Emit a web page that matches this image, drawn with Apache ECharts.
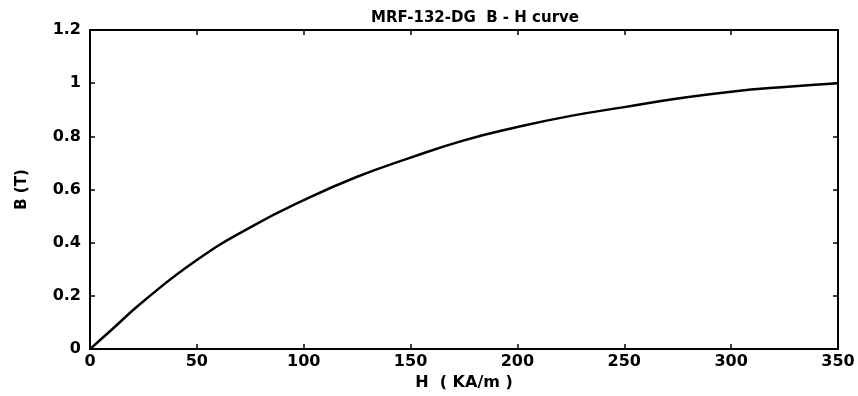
<!DOCTYPE html>
<html>
<head>
<meta charset="utf-8">
<script src="https://cdn.jsdelivr.net/npm/echarts@6/dist/echarts.min.js"></script>
<style>
  html, body { margin: 0; padding: 0; background: #fff; }
  #chart { width: 858px; height: 396px; }
</style>
</head>
<body>
<div id="chart"></div>
<script>
// H (KA/m) and B (T)
const hValues = [0, 5, 10, 25, 50, 75, 100, 125, 150, 175, 200, 225, 250, 275, 300, 325, 350];
const bValues = [0, 0.036, 0.072, 0.18, 0.335, 0.458, 0.56, 0.648, 0.72, 0.785, 0.835, 0.877, 0.91, 0.942, 0.968, 0.986, 1.0];

const FONT = 'DejaVu Sans';
const black = '#000';

const myChart = echarts.init(document.getElementById('chart'));

const boxAxis = {
  axisLine: {show: true, onZero: false, lineStyle: {color: black, width: 2}},
  axisTick: {show: true, inside: true, length: 5, lineStyle: {color: black, width: 1.5}},
  splitLine: {show: false},
};

myChart.setOption({
  animation: false,
  backgroundColor: '#fff',
  title: {
    text: 'MRF-132-DG  B - H curve',
    left: 470,
    textAlign: 'center',
    top: 6,
    textStyle: {fontFamily: FONT, fontSize: 15, fontWeight: 'bold', color: black},
  },
  grid: {left: 90, right: 20, top: 30, bottom: 38},
  xAxis: [{
    ...boxAxis,
    type: 'value',
    position: 'bottom',
    min: 0, max: 350, interval: 50,
    name: 'H  ( KA/m )',
    nameLocation: 'middle',
    nameGap: 21,
    nameTextStyle: {fontFamily: FONT, fontSize: 16, fontWeight: 'bold', color: black},
    axisLabel: {fontFamily: FONT, fontSize: 16, fontWeight: 'bold', color: black, margin: 5},
  }, {
    ...boxAxis,
    type: 'value',
    position: 'top',
    min: 0, max: 350, interval: 50,
    axisLabel: {show: false},
  }],
  yAxis: [{
    ...boxAxis,
    type: 'value',
    position: 'left',
    min: 0, max: 1.2, interval: 0.2,
    name: 'B (T)',
    nameLocation: 'middle',
    nameGap: 60,
    nameTextStyle: {fontFamily: FONT, fontSize: 15, fontWeight: 'bold', color: black},
    axisLabel: {fontFamily: FONT, fontSize: 16, fontWeight: 'bold', color: black, margin: 9},
  }, {
    ...boxAxis,
    type: 'value',
    position: 'right',
    min: 0, max: 1.2, interval: 0.2,
    axisLabel: {show: false},
  }],
  series: [{
    type: 'line',
    data: hValues.map((h, i) => [h, bValues[i]]),
    smooth: true,
    showSymbol: false,
    lineStyle: {color: black, width: 2.5},
  }],
});
</script>
</body>
</html>
